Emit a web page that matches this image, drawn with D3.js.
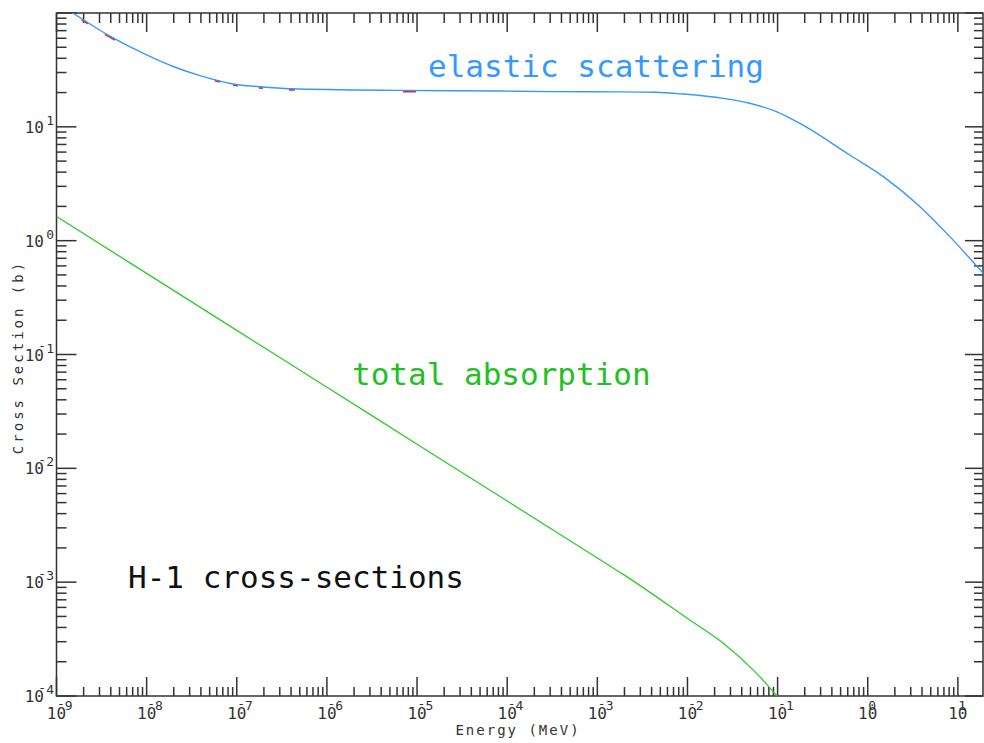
<!DOCTYPE html>
<html>
<head>
<meta charset="utf-8">
<script src="https://cdn.jsdelivr.net/npm/d3@7"></script>
<style>
    body { margin: 0; background: #fff; }
    svg { display: block; }
</style>
</head>
<body>
<svg></svg>
<script>
// values (energy in MeV, cross section in barns)
let elasticEnergy = [1e-9, 1.5e-9, 4e-9, 1e-8, 2e-8, 4e-8, 9e-8, 1.8e-7, 3.9e-7, 6.5e-6, 8.3e-5, 3e-4, 1.5e-3, 4.5e-3, 9e-3, 2.5e-2, 4.9e-2, 9.7e-2, 0.177, 0.63, 1.49, 3.8, 8.2, 19.1];
let elasticSigma = [121, 100, 62, 42.8, 33.7, 28, 23.8, 22.5, 21.6, 20.9, 20.65, 20.4, 20.3, 20.1, 19.4, 17.8, 16.1, 13.6, 10.7, 5.66, 3.65, 1.99, 1.08, 0.516];

let absorbEnergy = [1e-9, 1e-8, 1e-7, 1e-6, 1e-5, 1e-4, 1e-3, 1.94e-3, 1.06e-2, 2.5e-2, 5.85e-2, 1e-1];
let absorbSigma = [1.63, 0.516, 0.163, 0.0516, 0.0163, 0.00516, 0.00163, 1.17e-3, 4.65e-4, 2.9e-4, 1.58e-4, 9.9e-5];

// short red pieces showing under the elastic curve
let redStart = [1.9e-9, 3.45e-9, 5.7e-8, 9.1e-8, 1.76e-7, 3.8e-7, 7e-6];
let redEnd = [2.24e-9, 4.46e-9, 6.5e-8, 1.03e-7, 1.95e-7, 4.4e-7, 9.7e-6];

let xExponents = [-9, -8, -7, -6, -5, -4, -3, -2, -1, 0, 1];
let yExponents = [-4, -3, -2, -1, 0, 1];

let width = 984,
    height = 743;

let plotLeft = 56.5, plotRight = 983, plotTop = 13, plotBottom = 696;

let x = d3.scaleLog().domain([1e-9, 19]).range([plotLeft, plotRight]);
let y = d3.scaleLog().domain([1e-4, 100]).range([plotBottom, plotTop]);

let svg = d3.select('svg')
    .attr('width', width)
    .attr('height', height);

svg.append('clipPath').attr('id', 'plot')
    .append('rect')
    .attr('x', plotLeft).attr('y', plotTop)
    .attr('width', plotRight - plotLeft).attr('height', plotBottom - plotTop);

let axisColor = '#333';

// minor/major tick values
function tickValues(domain) {
    let vals = [];
    for (let e = -10; e <= 2; e++) {
        for (let m = 1; m <= 9; m++) {
            let v = m * Math.pow(10, e);
            if (v >= domain[0] * 0.999 && v <= domain[1] * 1.001) vals.push({ v: v, major: m === 1 });
        }
    }
    return vals;
}

let frame = svg.append('g').attr('stroke', axisColor).attr('stroke-width', 1.5).attr('fill', 'none');
frame.append('rect')
    .attr('x', plotLeft).attr('y', plotTop)
    .attr('width', plotRight - plotLeft).attr('height', plotBottom - plotTop);

let xt = tickValues(x.domain());
frame.selectAll('.xb').data(xt).enter().append('line')
    .attr('x1', d => x(d.v)).attr('x2', d => x(d.v))
    .attr('y1', plotBottom).attr('y2', d => plotBottom - (d.major ? 19 : 9));
frame.selectAll('.xt').data(xt).enter().append('line')
    .attr('x1', d => x(d.v)).attr('x2', d => x(d.v))
    .attr('y1', plotTop).attr('y2', d => plotTop + (d.major ? 19 : 10));

let yt = tickValues(y.domain());
frame.selectAll('.yl').data(yt).enter().append('line')
    .attr('y1', d => y(d.v)).attr('y2', d => y(d.v))
    .attr('x1', plotLeft).attr('x2', d => plotLeft + (d.major ? 20 : 10));
frame.selectAll('.yr').data(yt).enter().append('line')
    .attr('y1', d => y(d.v)).attr('y2', d => y(d.v))
    .attr('x1', plotRight).attr('x2', d => plotRight - (d.major ? 18 : 9));

let mono = "'DejaVu Sans Mono', monospace";

// exponent: the minus sits a little higher, as a bar over the 0
function exponent(t, e) {
    if (e < 0) {
        t.append('tspan').attr('dy', -2.5).text('-');
        t.append('tspan').attr('dy', 2.5).text(String(-e));
    } else {
        t.text(String(e));
    }
}

// x tick labels: base "10", exponent starting over the 0
let xl = svg.append('g').attr('fill', axisColor).attr('font-family', mono);
xExponents.forEach(e => {
    let px = x(Math.pow(10, e));
    xl.append('text').attr('x', px).attr('y', 719)
        .attr('text-anchor', 'middle').attr('font-size', 16).text('10');
    let t = xl.append('text').attr('x', px + 0.5).attr('y', 710)
        .attr('font-size', 13);
    exponent(t, e);
});

// y tick labels: exponent right aligned after "10"
let yl = svg.append('g').attr('fill', axisColor).attr('font-family', mono);
yExponents.forEach(e => {
    let py = y(Math.pow(10, e));
    yl.append('text').attr('x', 44).attr('y', py + 6)
        .attr('text-anchor', 'end').attr('font-size', 16).text('10');
    let t = yl.append('text').attr('x', 54).attr('y', py - 2)
        .attr('text-anchor', 'end').attr('font-size', 13);
    exponent(t, e);
});

svg.append('text')
    .attr('x', 518).attr('y', 735)
    .attr('text-anchor', 'middle')
    .attr('font-family', mono).attr('font-size', 14)
    .attr('letter-spacing', 2)
    .attr('fill', axisColor)
    .text('Energy (MeV)');

svg.append('text')
    .attr('transform', 'translate(23,357) rotate(-90)')
    .attr('text-anchor', 'middle')
    .attr('font-family', mono).attr('font-size', 14)
    .attr('letter-spacing', 3)
    .attr('fill', axisColor)
    .text('Cross Section (b)');

let plot = svg.append('g').attr('clip-path', 'url(#plot)');

let line = d3.line()
    .x(d => x(d[0]))
    .y(d => y(d[1]))
    .curve(d3.curveMonotoneX);

let elastic = elasticEnergy.map((e, i) => [e, elasticSigma[i]]);
let absorb = absorbEnergy.map((e, i) => [e, absorbSigma[i]]);

// log-log interpolation along the elastic curve for the red pieces
function elasticAt(e) {
    let i = d3.bisectRight(elasticEnergy, e) - 1;
    i = Math.max(0, Math.min(i, elasticEnergy.length - 2));
    let t = (Math.log10(e) - Math.log10(elasticEnergy[i])) / (Math.log10(elasticEnergy[i + 1]) - Math.log10(elasticEnergy[i]));
    return Math.pow(10, Math.log10(elasticSigma[i]) + t * (Math.log10(elasticSigma[i + 1]) - Math.log10(elasticSigma[i])));
}

plot.selectAll('.red').data(redStart).enter().append('line')
    .attr('x1', d => x(d))
    .attr('x2', (d, i) => x(redEnd[i]))
    .attr('y1', d => y(elasticAt(d)) + 1)
    .attr('y2', (d, i) => y(elasticAt(redEnd[i])) + 1)
    .attr('stroke', '#e8232a')
    .attr('stroke-width', 2);

plot.append('path')
    .datum(absorb)
    .attr('d', line)
    .attr('fill', 'none')
    .attr('stroke', '#2ccb2c')
    .attr('stroke-width', 1.3);

plot.append('path')
    .datum(elastic)
    .attr('d', line)
    .attr('fill', 'none')
    .attr('stroke', '#3399ff')
    .attr('stroke-width', 1.4);

// annotations
svg.append('text')
    .attr('x', 428).attr('y', 77)
    .attr('font-family', mono).attr('font-size', 31)
    .attr('fill', '#3399ff')
    .text('elastic scattering');

svg.append('text')
    .attr('x', 352).attr('y', 385)
    .attr('font-family', mono).attr('font-size', 31)
    .attr('fill', '#22c022')
    .text('total absorption');

svg.append('text')
    .attr('x', 128).attr('y', 588)
    .attr('font-family', mono).attr('font-size', 31)
    .attr('fill', '#111')
    .text('H-1 cross-sections');
</script>
</body>
</html>
